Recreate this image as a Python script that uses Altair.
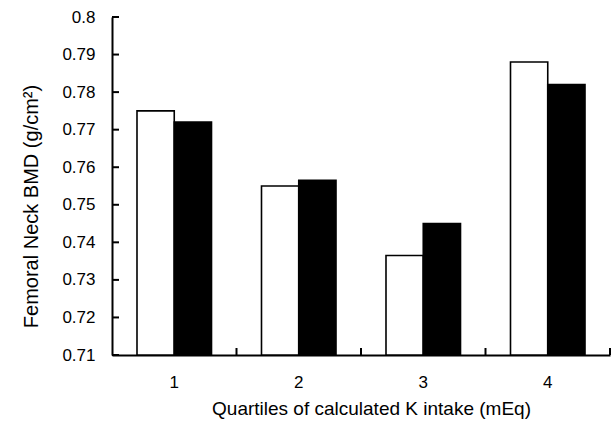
import altair as alt
import pandas as pd

# Mean femoral neck BMD by quartile of calculated potassium intake
quartiles = ["1", "2", "3", "4"]
series_names = ["Group 1", "Group 2"]
group1_bmd = [0.775, 0.755, 0.7365, 0.788]
group2_bmd = [0.772, 0.7565, 0.745, 0.782]
bar_colors = ["white", "black"]

y_tick_values = [0.71, 0.72, 0.73, 0.74, 0.75, 0.76, 0.77, 0.78, 0.79, 0.8]
y_min, y_max = 0.71, 0.8

rows = []
for q, a, b in zip(quartiles, group1_bmd, group2_bmd):
    rows.append({"quartile": q, "series": series_names[0], "bmd": a, "base": y_min})
    rows.append({"quartile": q, "series": series_names[1], "bmd": b, "base": y_min})
bars_df = pd.DataFrame(rows)
ticks_df = pd.DataFrame({"v": y_tick_values})
bounds_df = pd.DataFrame({"quartile": quartiles})

FONT = "Liberation Sans"
W, H = 498, 338

x_scale = alt.Scale(domain=quartiles, paddingInner=0, paddingOuter=0)
y_scale = alt.Scale(domain=[y_min, y_max], nice=False, zero=False)

x_axis = alt.Axis(
    title="Quartiles of calculated K intake (mEq)",
    labelAngle=0,
    ticks=False,
    tickSize=0,
    labelPadding=19,
    titleX=259,
    titleY=59,
    titleBaseline="alphabetic",
    titleAlign="center",
)
y_axis = alt.Axis(
    title="Femoral Neck BMD (g/cm²)",
    values=y_tick_values,
    format="~g",
    ticks=False,
    tickSize=0,
    labelPadding=17,
    labelBaseline="middle",
    labelOverlap=False,
    labelFlush=False,
    titleX=-81,
    titleY=189,
    titleAngle=-90,
    titleBaseline="middle",
    titleAlign="center",
)

bars = alt.Chart(bars_df).mark_bar(stroke="black", strokeWidth=1.6).encode(
    x=alt.X("quartile:N", scale=x_scale, sort=quartiles, axis=x_axis),
    xOffset=alt.XOffset(
        "series:N", sort=series_names, scale=alt.Scale(paddingOuter=0.671, paddingInner=0)
    ),
    y=alt.Y("bmd:Q", scale=y_scale, axis=y_axis),
    y2="base:Q",
    fill=alt.Fill(
        "series:N",
        scale=alt.Scale(domain=series_names, range=bar_colors),
        legend=None,
    ),
)

# inward tick marks on the value axis
y_ticks = alt.Chart(ticks_df).mark_rule(color="black", strokeWidth=2).encode(
    y=alt.Y("v:Q", scale=y_scale, axis=y_axis),
    x=alt.value(0),
    x2=alt.value(7),
)

# inward tick marks at the category boundaries
x_ticks = alt.Chart(bounds_df).mark_rule(color="black", strokeWidth=2).encode(
    x=alt.X("quartile:N", scale=x_scale, sort=quartiles, bandPosition=1, axis=x_axis),
    y=alt.value(H),
    y2=alt.value(H - 7),
)

chart = (
    alt.layer(bars, y_ticks, x_ticks)
    .properties(
        width=W,
        height=H,
        autosize=alt.AutoSizeParams(type="none"),
        padding={"left": 112, "top": 17, "right": 6, "bottom": 73},
        background="white",
    )
    .configure_view(stroke=None)
    .configure_axis(
        grid=False,
        domainColor="black",
        domainWidth=2,
        labelColor="black",
        titleColor="black",
        labelFont=FONT,
        titleFont=FONT,
        labelFontSize=17,
        titleFontSize=19,
        titleFontWeight="normal",
        labelOverlap=False,
    )
    .configure_axisY(titleFontSize=20)
)

chart.save("out.html", embed_options={"renderer": "svg", "actions": False})
